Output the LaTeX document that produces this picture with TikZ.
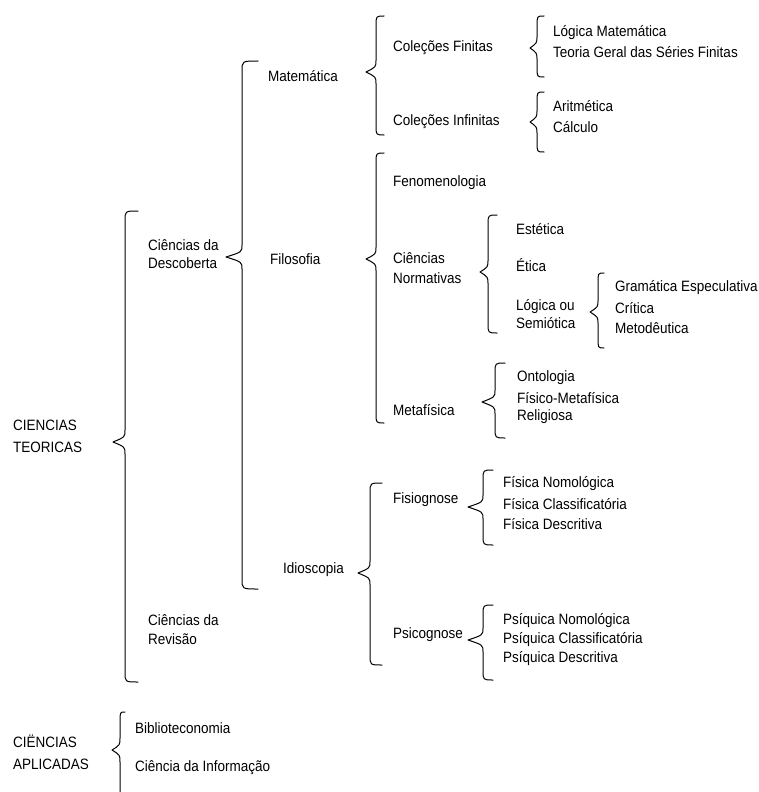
\documentclass[tikz,border=0pt]{standalone}
\usepackage{fontspec}
\setmainfont[FakeStretch=0.9]{Liberation Sans}
\tikzset{
  lbl/.style={anchor=west, inner sep=0pt, align=left, font=\fontsize{15}{19}\selectfont},
  caps/.style={lbl, font=\fontsize{15}{22}\selectfont},
  brc/.style={draw=black, line width=1pt, line cap=round, line join=round}
}
% #1 x of line, #2 x of hooks, #3 x of tip, #4 y top, #5 y tip, #6 y bottom
\newcommand{\cbrace}[6]{%
  \draw[brc] (#2,#4) .. controls (#1,#4) .. (#1,#4+10) -- (#1,#5-12)
    .. controls (#1,#5-5) .. (#3,#5) .. controls (#1,#5+5) .. (#1,#5+12)
    -- (#1,#6-10) .. controls (#1,#6) .. (#2,#6);}
\begin{document}
\begin{tikzpicture}[x=1pt, y=-1pt]
\useasboundingbox[fill=white] (0,0) rectangle (758,792);

% braces
\cbrace{125}{138}{113}{211}{442}{682}   % Ciencias teoricas
\cbrace{242}{258}{226}{61}{257}{589}    % Descoberta
\cbrace{376}{384}{366}{16}{72}{135}     % Matematica
\cbrace{376}{384}{366}{153}{259}{423}   % Filosofia
\cbrace{370}{382}{358}{483}{573}{665}   % Idioscopia
\cbrace{537}{544}{530}{16}{48}{77}      % Colecoes finitas
\cbrace{537}{544}{530}{92}{122}{152}    % Colecoes infinitas
\cbrace{488}{497}{480}{215}{272}{333}   % Normativas
\cbrace{598}{604}{590}{273}{312}{348}   % Semiotica
\cbrace{495}{505}{482}{363}{402}{438}   % Metafisica
\cbrace{483}{493}{468}{470}{507}{545}   % Fisiognose
\cbrace{483}{493}{468}{605}{640}{680}   % Psicognose
\draw[brc] (125,712) .. controls (120,712) .. (120,722) -- (120,738)
  .. controls (120,745) .. (112,750) .. controls (120,755) .. (120,762) -- (120,792);

% labels
\node[caps] (teo) at (13,436) {CIENCIAS\\TEORICAS};
\node[caps] (apl) at (13,752) {CIËNCIAS\\APLICADAS};
\node[lbl, font=\fontsize{15}{18}\selectfont] (desc) at (148,254) {Ciências da\\Descoberta};
\node[lbl] (rev) at (148,630) {Ciências da\\Revisão};
\node[lbl] (mat) at (268,76) {Matemática};
\node[lbl] (fil) at (270,259) {Filosofia};
\node[lbl] (idio) at (283,570) {Idioscopia};
\node[lbl] (cfin) at (393,48) {Coleções Finitas};
\node[lbl] (cinf) at (393,122) {Coleções Infinitas};
\node[lbl] (fen) at (393,183) {Fenomenologia};
\node[lbl, font=\fontsize{15}{20}\selectfont] (norm) at (393,268) {Ciências\\Normativas};
\node[lbl] (meta) at (393,410) {Metafísica};
\node[lbl] (fisi) at (393,500) {Fisiognose};
\node[lbl] (psic) at (393,635) {Psicognose};
\node[lbl] (logm) at (553,33) {Lógica Matemática};
\node[lbl] (teor) at (553,52) {Teoria Geral das Séries Finitas};
\node[lbl] (arit) at (553,106) {Aritmética};
\node[lbl] (calc) at (553,127) {Cálculo};
\node[lbl] (este) at (516,229) {Estética};
\node[lbl] (etic) at (516,265) {Ética};
\node[lbl, font=\fontsize{15}{18}\selectfont] (semi) at (516,314) {Lógica ou\\Semiótica};
\node[lbl] (gram) at (615,288) {Gramática Especulativa};
\node[lbl] (crit) at (615,308) {Crítica};
\node[lbl] (meto) at (615,328) {Metodêutica};
\node[lbl] (onto) at (517,378) {Ontologia};
\node[lbl] (fmet) at (517,398) {Físico-Metafísica};
\node[lbl] (reli) at (517,417) {Religiosa};
\node[lbl] (fnom) at (503,484) {Física Nomológica};
\node[lbl] (fcla) at (503,504) {Física Classificatória};
\node[lbl] (fdes) at (503,524) {Física Descritiva};
\node[lbl] (pnom) at (503,621) {Psíquica Nomológica};
\node[lbl] (pcla) at (503,640) {Psíquica Classificatória};
\node[lbl] (pdes) at (503,659) {Psíquica Descritiva};
\node[lbl] (bibl) at (135,728) {Biblioteconomia};
\node[lbl] (cinfo) at (135,768) {Ciência da Informação};
\end{tikzpicture}
\end{document}
